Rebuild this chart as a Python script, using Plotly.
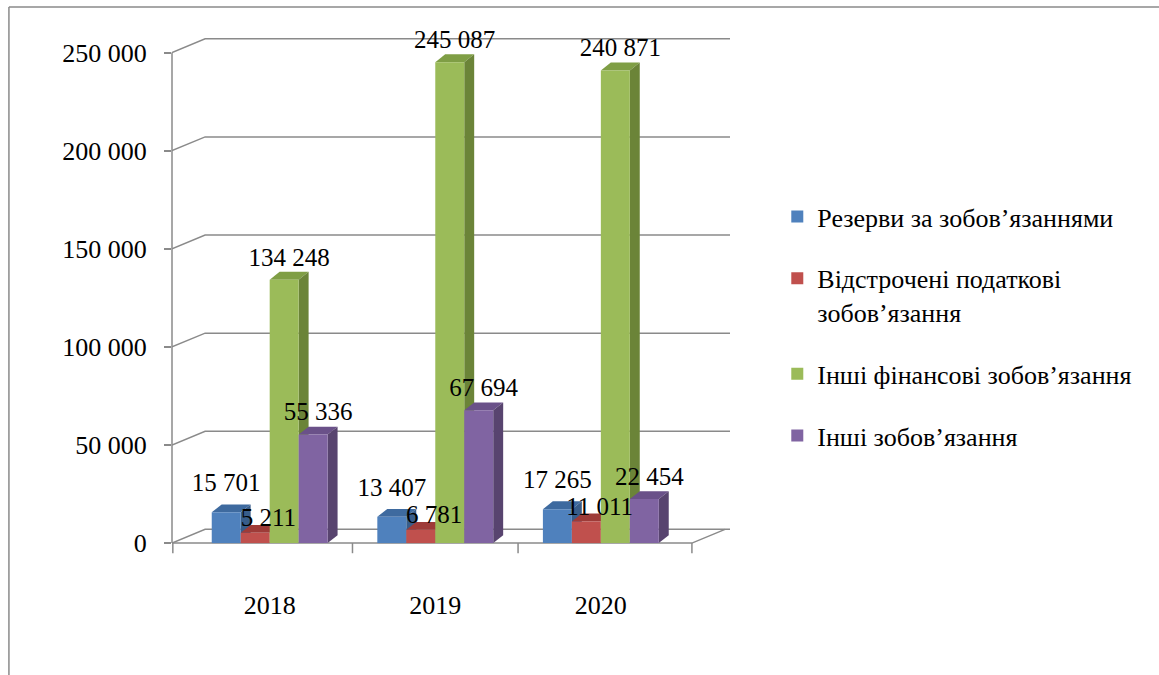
import plotly.graph_objects as go

# ---------------- data ----------------
years = ["2018", "2019", "2020"]
series_names = [
    "Резерви за зобов’язаннями",
    "Відстрочені податкові<br>зобов’язання",
    "Інші фінансові зобов’язання",
    "Інші зобов’язання",
]
reserves = [15701, 13407, 17265]
deferred_tax = [5211, 6781, 11011]
other_financial = [134248, 245087, 240871]
other_liabilities = [55336, 67694, 22454]
y_ticks = [0, 50000, 100000, 150000, 200000, 250000]

series_values = [reserves, deferred_tax, other_financial, other_liabilities]

# ---------------- styling ----------------
front_colors = ["#4F81BD", "#C0504D", "#9BBB59", "#8064A2"]
top_colors = ["#3E6A9F", "#9E3B38", "#7F9E45", "#6A5189"]
side_colors = ["#385D8A", "#8C3836", "#6B8438", "#58446F"]
grid_color = "#8A8A8A"
FONT = "Liberation Serif, Times New Roman, serif"

W, H = 1159, 675
x_range = [-0.59, 2.78]
y_range = [-2000, 262000]
margin_l, margin_t = 172, 29
px_per_x = 165.5
px_per_y = 1.962e-3
plot_w = (x_range[1] - x_range[0]) * px_per_x
plot_h = (y_range[1] - y_range[0]) * px_per_y
margin_r = W - margin_l - plot_w
margin_b = H - margin_t - plot_h

bar_w = 0.175          # width of each bar (category units)
depth_x = 0.06         # 3D depth offset of bars (x units)
depth_y = 4000         # 3D depth offset of bars (value units)
wall_x = 0.20          # depth of wall/floor
wall_y = 7000
floor_end = 2.55

# label placement per series (style only)
label_dx = [-0.03, 0.05, 0.0, 0.0]
label_dy = [3500, 2500, 0, 0]
label_pos = ["top center", "middle center", "top center", "top center"]

x_pos = list(range(len(years)))

fig = go.Figure()
shapes = []

# wall gridlines (perspective-like)
xmin = x_range[0]
for v in y_ticks:
    shapes.append(dict(
        type="path", xref="x", yref="y", layer="below",
        path=f"M {xmin},{v} L {xmin + wall_x},{v + wall_y} L {x_range[1]},{v + wall_y}",
        line=dict(color=grid_color, width=1.5)))
# floor front edge and right edge
shapes.append(dict(type="path", xref="x", yref="y", layer="below",
                   path=f"M {xmin},0 L {floor_end},0 L {floor_end + wall_x},{wall_y}",
                   line=dict(color=grid_color, width=1.5)))
# vertical axis line
shapes.append(dict(type="line", xref="paper", yref="y", x0=0, x1=0, y0=0, y1=y_ticks[-1],
                   line=dict(color=grid_color, width=1.5)))
# category boundary ticks on the floor
for xb in [xmin + 0.005, 0.5, 1.5, floor_end]:
    shapes.append(dict(type="line", xref="x", yref="paper", x0=xb, x1=xb, y0=0.0077, y1=-0.012,
                       line=dict(color=grid_color, width=1.5)))

# bars (front faces) + 3D top/side faces
for i, (name, vals) in enumerate(zip(series_names, series_values)):
    offset = (i - 2) * bar_w
    fig.add_trace(go.Bar(
        x=x_pos, y=vals, width=bar_w, offset=offset, name=name,
        marker=dict(color=front_colors[i], line=dict(width=0)),
        legendgroup=str(i),
    ))
    for j, v in zip(x_pos, vals):
        x0 = j + offset
        x1 = x0 + bar_w
        shapes.append(dict(
            type="path", xref="x", yref="y", layer="below",
            path=(f"M {x0},{v} L {x1},{v} L {x1 + depth_x},{v + depth_y} "
                  f"L {x0 + depth_x},{v + depth_y} Z"),
            fillcolor=top_colors[i], line=dict(width=0)))
        shapes.append(dict(
            type="path", xref="x", yref="y", layer="below",
            path=(f"M {x1},0 L {x1 + depth_x},{depth_y} L {x1 + depth_x},{v + depth_y} "
                  f"L {x1},{v} Z"),
            fillcolor=side_colors[i], line=dict(width=0)))

# data labels
for i, vals in enumerate(series_values):
    offset = (i - 2) * bar_w
    fig.add_trace(go.Scatter(
        x=[j + offset + bar_w / 2 + depth_x / 2 + label_dx[i] for j in x_pos],
        y=[v + depth_y + label_dy[i] for v in vals],
        mode="text",
        text=[f"{v:,}".replace(",", " ") for v in vals],
        textposition=label_pos[i],
        textfont=dict(family=FONT, size=25, color="black"),
        showlegend=False, hoverinfo="skip", cliponaxis=False,
    ))

# outer frame (left and top edges)
fx0 = (9 - margin_l) / plot_w
fy1 = 1 + (margin_t - 7) / plot_h
shapes.append(dict(type="line", xref="paper", yref="paper", x0=fx0, x1=fx0, y0=-1, y1=fy1,
                   line=dict(color="#8A8A8A", width=1.5)))
shapes.append(dict(type="line", xref="paper", yref="paper", x0=fx0, x1=3, y0=fy1, y1=fy1,
                   line=dict(color="#8A8A8A", width=1.5)))

fig.update_layout(
    width=W, height=H,
    margin=dict(l=margin_l, r=margin_r, t=margin_t, b=margin_b, pad=0),
    paper_bgcolor="white", plot_bgcolor="white",
    barmode="overlay",
    separators=", ",
    font=dict(family=FONT, size=26, color="black"),
    shapes=shapes,
    xaxis=dict(
        range=x_range, tickvals=x_pos, ticktext=years, showgrid=False, zeroline=False,
        showline=False, ticks="", ticklabelstandoff=40,
        tickfont=dict(family=FONT, size=26, color="black"),
    ),
    yaxis=dict(
        range=y_range, tickvals=y_ticks, tickformat=",", showgrid=False, zeroline=False,
        showline=False, ticks="outside", ticklen=7, tickwidth=1.5, tickcolor=grid_color,
        ticklabelstandoff=12,
        tickfont=dict(family=FONT, size=26, color="black"),
    ),
    legend=dict(
        x=(777 - margin_l) / plot_w, xanchor="left",
        y=1 - (193 - margin_t) / plot_h, yanchor="top",
        font=dict(family=FONT, size=26, color="black"),
        tracegroupgap=25, valign="top", bgcolor="rgba(0,0,0,0)",
        traceorder="grouped",
    ),
    showlegend=True,
)

fig.write_html("out.html")
